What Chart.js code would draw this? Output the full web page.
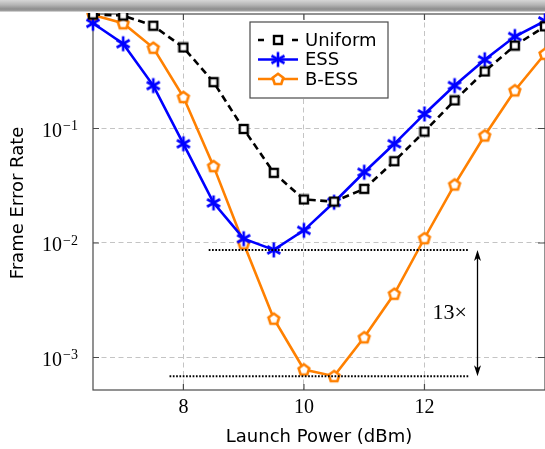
<!DOCTYPE html>
<html>
<head>
<meta charset="utf-8">
<script src="https://cdn.jsdelivr.net/npm/chart.js@4.4.0/dist/chart.umd.min.js"></script>
<style>
  html, body { margin: 0; padding: 0; background: #fff; }
  #wrap { position: relative; width: 545px; height: 449px; overflow: hidden; }
  #shade {
    position: absolute; left: 0; top: 0; width: 545px; height: 13px; pointer-events: none;
    background: linear-gradient(to bottom, #d6d6d6 0px, #b4b4b4 5px, #8e8e8e 9px, #9c9c9c 10.5px, #ffffff 12.5px);
  }
</style>
</head>
<body>
<div id="wrap">
  <canvas id="fer" width="545" height="449"></canvas>
  <div id="shade"></div>
</div>
<script>
// launch power sweep (dBm) and frame error rate per scheme
const launchPower = [6.5, 7, 7.5, 8, 8.5, 9, 9.5, 10, 10.5, 11, 11.5, 12, 12.5, 13, 13.5, 14];
const uniformFer = [0.99, 0.97, 0.79, 0.51, 0.254, 0.099, 0.041, 0.024, 0.023, 0.0297, 0.0518, 0.094, 0.176, 0.315, 0.53, 0.78];
const essFer = [0.83, 0.55, 0.237, 0.0735, 0.0224, 0.0109, 0.0087, 0.0129, 0.0227, 0.0415, 0.0735, 0.134, 0.237, 0.398, 0.636, 0.87];
const bessFer = [0.98, 0.83, 0.507, 0.188, 0.0469, 0.0099, 0.00218, 0.000785, 0.000687, 0.0015, 0.0036, 0.011, 0.0324, 0.0868, 0.215, 0.449];

const xTicks = [8, 10, 12];
const yTicks = [1e-3, 1e-2, 1e-1];
const yTickExp = ['\u22123', '\u22122', '\u22121'];

// horizontal spans of the two dotted reference lines and the arrow position
const essMinSpan = [8.42, 12.73];
const bessMinSpan = [7.77, 12.73];
const gapArrowX = 12.88;
const gapLabelX = 12.42;

const legendNames = ['Uniform', 'ESS', 'B-ESS'];

const BLUE = '#0000ff';
const ORANGE = '#ff8000';
const FRAME = '#4a4a4a';
const SANS = '"DejaVu Sans", sans-serif';
const SERIF = '"Liberation Serif", "DejaVu Serif", serif';

// marker images (pgfplots style square / asterisk / pentagon)
function squareMark() {
  const c = document.createElement('canvas');
  c.width = 12; c.height = 12;
  const g = c.getContext('2d');
  g.fillStyle = '#fff';
  g.strokeStyle = '#000';
  g.lineWidth = 2.4;
  g.fillRect(2, 2, 8, 8);
  g.strokeRect(2, 2, 8, 8);
  return c;
}

function asteriskMark() {
  const c = document.createElement('canvas');
  c.width = 18; c.height = 18;
  const g = c.getContext('2d');
  g.strokeStyle = BLUE;
  g.lineWidth = 2.6;
  g.lineCap = 'butt';
  const r = 7.5;
  [90, 30, 150].forEach(a => {
    const t = a * Math.PI / 180;
    g.beginPath();
    g.moveTo(9 - r * Math.cos(t), 9 - r * Math.sin(t));
    g.lineTo(9 + r * Math.cos(t), 9 + r * Math.sin(t));
    g.stroke();
  });
  return c;
}

function pentagonMark() {
  const c = document.createElement('canvas');
  c.width = 16; c.height = 16;
  const g = c.getContext('2d');
  g.fillStyle = '#fff';
  g.strokeStyle = ORANGE;
  g.lineWidth = 2.6;
  g.beginPath();
  for (let i = 0; i < 5; i++) {
    const t = -Math.PI / 2 + i * 2 * Math.PI / 5;
    const px = 8 + 5.6 * Math.cos(t), py = 8.4 + 5.6 * Math.sin(t);
    if (i === 0) g.moveTo(px, py); else g.lineTo(px, py);
  }
  g.closePath();
  g.fill();
  g.stroke();
  return c;
}

const marks = [squareMark(), asteriskMark(), pentagonMark()];

function toPoints(ys) {
  return launchPower.map((x, i) => ({ x: x, y: ys[i] }));
}

function dotted(ctx, x1, x2, y) {
  ctx.save();
  ctx.strokeStyle = '#000';
  ctx.lineWidth = 2;
  ctx.setLineDash([1.7, 1.6]);
  ctx.beginPath();
  ctx.moveTo(x1, y);
  ctx.lineTo(x2, y);
  ctx.stroke();
  ctx.restore();
}

function arrowHead(ctx, x, y, dir) {
  ctx.beginPath();
  ctx.moveTo(x, y);
  ctx.lineTo(x - 3.5, y + dir * 11);
  ctx.lineTo(x, y + dir * 8);
  ctx.lineTo(x + 3.5, y + dir * 11);
  ctx.closePath();
  ctx.fill();
}

const decorations = {
  id: 'decorations',
  beforeDatasetsDraw(chart) {
    const { ctx, chartArea: a, scales } = chart;
    ctx.save();
    ctx.strokeStyle = FRAME;
    ctx.lineWidth = 1.2;
    ctx.strokeRect(a.left, a.top, a.right - a.left, a.bottom - a.top);
    // inward tick marks on all four sides
    ctx.beginPath();
    xTicks.forEach(v => {
      const x = scales.x.getPixelForValue(v);
      ctx.moveTo(x, a.bottom); ctx.lineTo(x, a.bottom - 6);
      ctx.moveTo(x, a.top); ctx.lineTo(x, a.top + 6);
    });
    yTicks.forEach(v => {
      const y = scales.y.getPixelForValue(v);
      ctx.moveTo(a.left, y); ctx.lineTo(a.left + 6, y);
      ctx.moveTo(a.right, y); ctx.lineTo(a.right - 7, y);
    });
    ctx.stroke();
    ctx.restore();
  },
  afterDatasetsDraw(chart) {
    const { ctx, chartArea: a, scales } = chart;
    const xs = scales.x, ys = scales.y;
    ctx.save();

    // gap between the ESS and B-ESS minima
    const essMin = Math.min(...essFer);
    const bessMin = Math.min(...bessFer);
    const yHi = ys.getPixelForValue(essMin);
    const yLo = ys.getPixelForValue(bessMin);
    dotted(ctx, xs.getPixelForValue(essMinSpan[0]), xs.getPixelForValue(essMinSpan[1]), yHi);
    dotted(ctx, xs.getPixelForValue(bessMinSpan[0]), xs.getPixelForValue(bessMinSpan[1]), yLo);

    const ax = xs.getPixelForValue(gapArrowX);
    ctx.strokeStyle = '#000';
    ctx.fillStyle = '#000';
    ctx.lineWidth = 1.3;
    ctx.beginPath();
    ctx.moveTo(ax, yHi + 6);
    ctx.lineTo(ax, yLo - 6);
    ctx.stroke();
    arrowHead(ctx, ax, yHi, 1);
    arrowHead(ctx, ax, yLo, -1);

    ctx.font = '22px ' + SERIF;
    ctx.textAlign = 'center';
    ctx.textBaseline = 'middle';
    ctx.fillText(Math.round(essMin / bessMin) + '\u00d7',
      xs.getPixelForValue(gapLabelX), ys.getPixelForValue(Math.sqrt(essMin * bessMin)));

    // legend box
    const lx = 250, ly = 22, lw = 138, lh = 76;
    ctx.fillStyle = '#fff';
    ctx.fillRect(lx, ly, lw, lh);
    ctx.strokeStyle = FRAME;
    ctx.lineWidth = 1.2;
    ctx.strokeRect(lx, ly, lw, lh);
    const rows = [40, 59.5, 79];
    const colors = ['#000', BLUE, ORANGE];
    rows.forEach((y, i) => {
      ctx.strokeStyle = colors[i];
      ctx.lineWidth = 2.6;
      ctx.beginPath();
      if (i === 0) {
        ctx.moveTo(258, y); ctx.lineTo(264, y);
        ctx.moveTo(292, y); ctx.lineTo(298, y);
      } else {
        ctx.moveTo(258, y); ctx.lineTo(298, y);
      }
      ctx.stroke();
      const m = marks[i];
      ctx.drawImage(m, 278 - m.width / 2, y - m.height / 2);
      ctx.fillStyle = '#000';
      ctx.font = '18px ' + SANS;
      ctx.textAlign = 'left';
      ctx.textBaseline = 'middle';
      ctx.fillText(legendNames[i], 305, y + 1);
    });

    // tick labels
    ctx.fillStyle = '#000';
    ctx.font = '20px ' + SERIF;
    ctx.textAlign = 'center';
    ctx.textBaseline = 'middle';
    xTicks.forEach(v => ctx.fillText(String(v), xs.getPixelForValue(v), 408));
    yTicks.forEach((v, i) => {
      const y = ys.getPixelForValue(v);
      ctx.font = '20px ' + SERIF;
      ctx.textAlign = 'right';
      ctx.textBaseline = 'alphabetic';
      ctx.fillText('10', 62, y + 8.5);
      ctx.font = '14px ' + SERIF;
      ctx.textAlign = 'left';
      ctx.fillText(yTickExp[i], 63, y + 2);
    });

    // axis titles
    ctx.font = '18px ' + SANS;
    ctx.textAlign = 'center';
    ctx.textBaseline = 'middle';
    ctx.fillText('Launch Power (dBm)', 319, 437);
    ctx.translate(18, 203);
    ctx.rotate(-Math.PI / 2);
    ctx.fillText('Frame Error Rate', 0, 0);
    ctx.restore();
  }
};

function series(label, ys, color, mark, dash) {
  return {
    label: label,
    data: toPoints(ys),
    borderColor: color,
    backgroundColor: color,
    borderWidth: 2.6,
    borderDash: dash,
    pointStyle: mark,
    pointRadius: 6,
    pointHoverRadius: 6,
    tension: 0,
    clip: false
  };
}

new Chart(document.getElementById('fer').getContext('2d'), {
  type: 'line',
  data: {
    datasets: [
      series('Uniform', uniformFer, '#000', marks[0], [7, 4.5]),
      series('ESS', essFer, BLUE, marks[1], []),
      series('B-ESS', bessFer, ORANGE, marks[2], [])
    ]
  },
  options: {
    responsive: false,
    animation: false,
    layout: { autoPadding: false, padding: { left: 93, top: 14, right: -1, bottom: 59 } },
    plugins: { legend: { display: false }, tooltip: { enabled: false } },
    scales: {
      x: {
        type: 'linear',
        min: 6.5,
        max: 14,
        afterBuildTicks: s => { s.ticks = xTicks.map(v => ({ value: v })); },
        ticks: { display: false },
        grid: { color: '#c4c4c4', lineWidth: 1, drawTicks: false },
        border: { display: false, dash: [5, 3.5] }
      },
      y: {
        type: 'logarithmic',
        min: Math.pow(10, -3.284),
        max: 1,
        afterBuildTicks: s => { s.ticks = yTicks.map(v => ({ value: v })); },
        ticks: { display: false },
        grid: { color: '#c4c4c4', lineWidth: 1, drawTicks: false },
        border: { display: false, dash: [5, 3.5] }
      }
    }
  },
  plugins: [decorations]
});
</script>
</body>
</html>
